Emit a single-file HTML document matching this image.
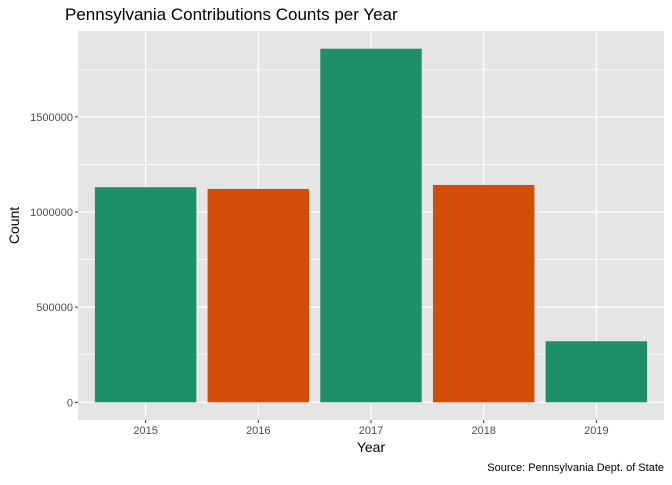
<!DOCTYPE html>
<html><head><meta charset="utf-8"><style>
body{margin:0;background:#fff;font-family:"Liberation Sans",Arial,sans-serif}
</style></head><body>
<svg id="chart" width="672" height="480" xmlns="http://www.w3.org/2000/svg" font-family="Liberation Sans, Arial, sans-serif"></svg>
<script>
const categories=["2015","2016","2017","2018","2019"];
const counts=[1130000,1121000,1858000,1142000,321000];
const barColors=["#1E9069","#D14D08","#1E9069","#D14D08","#1E9069"];
const yTicks=[0,500000,1000000,1500000];
const yTickLabels=["0","500000","1000000","1500000"];

const svg=document.getElementById('chart');
const NS="http://www.w3.org/2000/svg";
const L=78,R=664,T=31,B=420;
const maxV=Math.max(...counts);
const yMin=-0.05*maxV,yMax=maxV*1.05;
function y(v){return B-(v-yMin)/(yMax-yMin)*(B-T);}
const unit=(R-L)/(categories.length-1+1.2);
function x(i){return L+(0.6+i)*unit;}
function el(tag,attrs,parent){const e=document.createElementNS(NS,tag);for(const k in attrs)e.setAttribute(k,attrs[k]);(parent||svg).appendChild(e);return e;}

const panel=el('rect',{x:L,y:T,width:R-L,height:B-T,fill:'#E5E5E5'});


for(let k=0;k<yTicks.length;k++){
  const mid=yTicks[k]+250000;
  if(y(mid)>T){const m=el('line',{x1:L,x2:R,y1:y(mid),y2:y(mid),stroke:'#fff','stroke-width':0.6});
  
  }
}
yTicks.forEach((t,k)=>{
  const g=el('line',{x1:L,x2:R,y1:y(t),y2:y(t),stroke:'#fff','stroke-width':1.2});
  
  
  el('line',{x1:L-3,x2:L,y1:y(t),y2:y(t),stroke:'#333','stroke-width':1});
  const tx=el('text',{x:L-5,y:y(t)+4,'text-anchor':'end','font-size':11,fill:'#4D4D4D'});
  tx.textContent=yTickLabels[k];
  
  
});
categories.forEach((c,i)=>{
  const g=el('line',{x1:x(i),x2:x(i),y1:T,y2:B,stroke:'#fff','stroke-width':1.2});
  
  
});
const bw=unit*0.9;
categories.forEach((c,i)=>{
  const r=el('rect',{x:x(i)-bw/2,y:y(counts[i]),width:bw,height:y(0)-y(counts[i]),fill:barColors[i]});
  
  
  el('line',{x1:x(i),x2:x(i),y1:B,y2:B+3,stroke:'#333','stroke-width':1});
  const tx=el('text',{x:x(i),y:B+14,'text-anchor':'middle','font-size':11,fill:'#4D4D4D'});
  tx.textContent=c;
  
  
});
const title=el('text',{x:L-13,y:20,'font-size':17,fill:'#000'});
title.textContent='Pennsylvania Contributions Counts per Year';


const xt=el('text',{x:(L+R)/2,y:452,'text-anchor':'middle','font-size':14,fill:'#000'});
xt.textContent='Year';


const yt=el('text',{x:0,y:0,'text-anchor':'middle','font-size':14,fill:'#000',transform:'translate(19,'+((T+B)/2)+') rotate(-90)'});
yt.textContent='Count';


const cap=el('text',{x:R,y:471,'text-anchor':'end','font-size':11,fill:'#000'});
cap.textContent='Source: Pennsylvania Dept. of State';


</script>
</body></html>
